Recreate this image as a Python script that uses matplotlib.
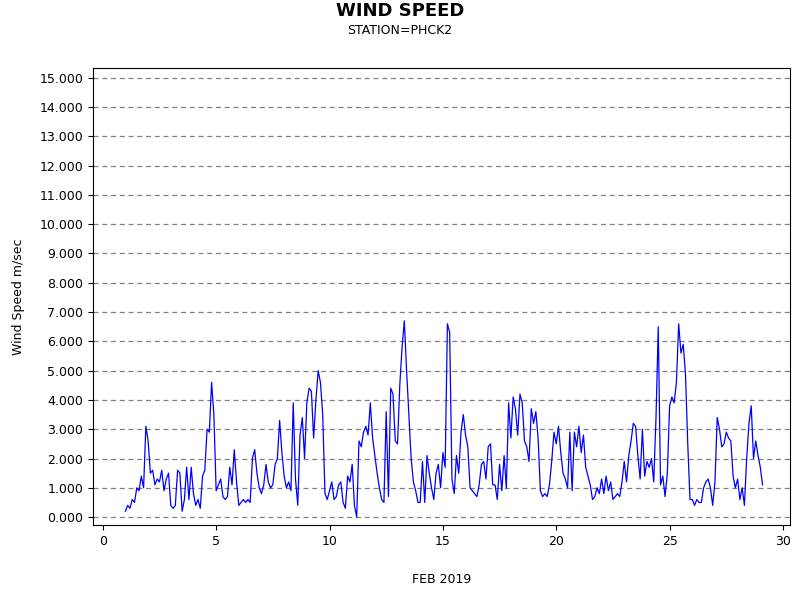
import numpy as np
import matplotlib.pyplot as plt
from matplotlib.ticker import FormatStrFormatter

# day of month (Feb 2019) and wind speed (m/s)
day = np.round(np.arange(1.0, 29.11, 0.1), 2)
speed = [0.2, 0.4, 0.3, 0.6, 0.5, 1.0, 0.9, 1.4, 1.0, 3.1,
         2.6, 1.5, 1.6, 1.1, 1.3, 1.2, 1.6, 0.9, 1.3, 1.5,
         0.4, 0.3, 0.4, 1.6, 1.5, 0.2, 0.6, 1.7, 0.6, 1.7,
         0.8, 0.4, 0.6, 0.3, 1.4, 1.6, 3.0, 2.9, 4.6, 3.5,
         0.9, 1.1, 1.3, 0.7, 0.6, 0.7, 1.7, 1.1, 2.3, 1.2,
         0.4, 0.5, 0.6, 0.5, 0.6, 0.5, 2.0, 2.3, 1.5, 1.0,
         0.8, 1.1, 1.8, 1.2, 1.0, 1.1, 1.8, 2.0, 3.3, 2.2,
         1.4, 1.0, 1.2, 0.9, 3.9, 1.3, 0.4, 2.8, 3.4, 2.0,
         3.9, 4.4, 4.3, 2.7, 4.0, 5.0, 4.6, 3.5, 0.8, 0.6,
         0.9, 1.2, 0.6, 0.7, 1.1, 1.2, 0.5, 0.3, 1.4, 1.2,
         1.8, 0.4, 0.0, 2.6, 2.4, 2.9, 3.1, 2.8, 3.9, 2.7,
         2.1, 1.5, 1.0, 0.6, 0.5, 3.6, 0.7, 4.4, 4.2, 2.6,
         2.5, 4.5, 5.8, 6.7, 5.0, 3.5, 2.0, 1.2, 0.9, 0.5,
         0.5, 1.9, 0.5, 2.1, 1.5, 1.0, 0.6, 1.5, 1.8, 1.0,
         2.2, 1.7, 6.6, 6.3, 1.3, 0.8, 2.1, 1.5, 2.9, 3.5,
         2.8, 2.4, 1.0, 0.9, 0.8, 0.7, 1.1, 1.8, 1.9, 1.3,
         2.4, 2.5, 1.1, 1.1, 0.6, 1.8, 0.9, 2.1, 1.0, 3.9,
         2.7, 4.1, 3.7, 2.8, 4.2, 3.9, 2.6, 2.4, 1.9, 3.7,
         3.2, 3.6, 2.7, 0.9, 0.7, 0.8, 0.7, 1.1, 1.9, 2.9,
         2.5, 3.1, 2.2, 1.5, 1.3, 1.0, 2.9, 0.9, 2.9, 2.4,
         3.1, 2.2, 2.8, 1.7, 1.4, 1.1, 0.6, 0.7, 1.0, 0.8,
         1.3, 0.8, 1.4, 0.9, 1.2, 0.6, 0.7, 0.8, 0.7, 1.2,
         1.9, 1.2, 2.1, 2.6, 3.2, 3.1, 2.1, 1.3, 3.0, 1.4,
         1.9, 1.7, 2.0, 1.2, 3.4, 6.5, 1.1, 1.4, 0.7, 1.5,
         3.8, 4.1, 3.9, 4.6, 6.6, 5.6, 5.9, 4.9, 2.5, 0.6,
         0.6, 0.4, 0.6, 0.5, 0.5, 1.0, 1.2, 1.3, 1.0, 0.4,
         1.2, 3.4, 3.0, 2.4, 2.5, 2.9, 2.7, 2.6, 1.4, 1.0,
         1.3, 0.6, 1.0, 0.4, 2.0, 3.2, 3.8, 2.0, 2.6, 2.1,
         1.7, 1.1]

yticks = np.arange(0, 16, 1)

fig = plt.figure(figsize=(8, 6), dpi=100)
ax = fig.add_axes([0.116, 0.125, 0.8715, 0.762])
ax.plot(day[:len(speed)], speed, color='blue', linewidth=0.9)

ax.set_xlim(-0.44, 30.31)
ax.set_ylim(-0.27, 15.34)
ax.set_xticks([0, 5, 10, 15, 20, 25, 30])
ax.set_yticks(yticks)
ax.yaxis.set_major_formatter(FormatStrFormatter('%.3f'))
ax.tick_params(labelsize=9)
ax.grid(axis='y', linestyle=(0, (4, 3)), color='gray', linewidth=0.9)

ax.set_xlabel('FEB 2019', fontsize=9, labelpad=18)
ax.set_ylabel('Wind Speed m/sec', fontsize=9, labelpad=10)

fig.text(0.5, 0.982, 'WIND SPEED', ha='center', va='center', fontsize=13, fontweight='bold')
fig.text(0.5, 0.95, 'STATION=PHCK2', ha='center', va='center', fontsize=9)

fig.savefig('out.png', dpi=100)
